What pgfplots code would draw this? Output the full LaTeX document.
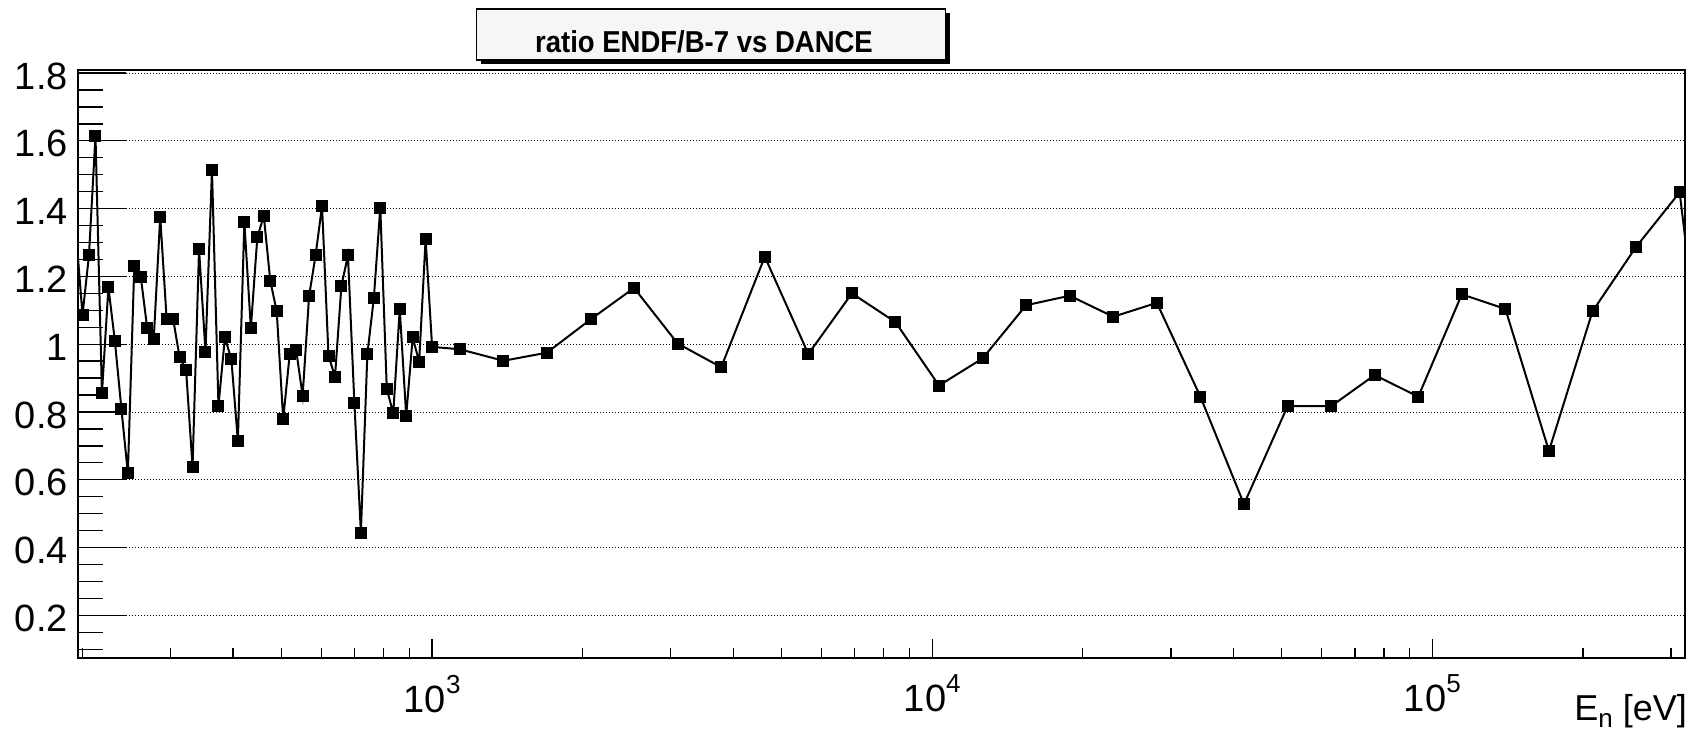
\documentclass[border=0pt]{standalone}
\usepackage{pgfplots}
\pgfplotsset{compat=1.18}
\usepackage{fontspec}
\setmainfont{Liberation Sans}
\newcommand{\tenpow}[1]{10\raisebox{19pt}{\fontsize{26}{26}\selectfont #1}}
\begin{document}
\begin{tikzpicture}
\useasboundingbox (-78pt,-71.7pt) rectangle (1620pt,658.3pt);
\begin{axis}[
  at={(0pt,0pt)}, anchor=south west,
  scale only axis, width=1607pt, height=588.3pt,
  xmode=log, xmin=195.9, xmax=320200,
  ymin=0.0732, ymax=1.809,
  xtick={1000,10000,100000},
  xticklabels={\tenpow{3},\tenpow{4},\tenpow{5}},
  minor xtick={200,300,400,500,600,700,800,900,2000,3000,4000,5000,6000,7000,8000,9000,20000,30000,40000,50000,60000,70000,80000,90000,200000,300000},
  ytick={0.2,0.4,0.6,0.8,1.0,1.2,1.4,1.6,1.8},
  yticklabels={0.2,0.4,0.6,0.8,1,1.2,1.4,1.6,1.8},
  minor ytick={0.1,0.15,0.25,0.3,0.35,0.45,0.5,0.55,0.65,0.7,0.75,0.85,0.9,0.95,1.05,1.1,1.15,1.25,1.3,1.35,1.45,1.5,1.55,1.65,1.7,1.75},
  tick pos=left,
  tick align=inside,
  x tick style={/pgfplots/major tick length=19pt, /pgfplots/minor tick length=10pt},
  y tick style={/pgfplots/major tick length=48pt, /pgfplots/minor tick length=25pt},
  major tick length=48pt, minor tick length=25pt,
  tick style={black, line width=1.3pt},
  axis line style={black, line width=2pt},
  ymajorgrids=true,
  major grid style={black, line width=0.9pt, dash pattern=on 1pt off 2pt},
  tick label style={font=\fontsize{38}{40}\selectfont},
  xticklabel style={anchor=north, inner sep=0pt, yshift=-16.5pt},
  yticklabel style={anchor=east, inner sep=0pt, xshift=-10pt, yshift=-3pt},
  clip=true,
]
\addplot[black, line width=2pt, mark=square*, mark size=5pt, mark options={solid, fill=black}] coordinates {
(194.1,1.33)
(200.0,1.086) (206.0,1.262) (212.3,1.615) (218.7,0.855) (225.3,1.168)
(232.1,1.010) (239.2,0.809) (246.4,0.619) (253.8,1.230) (261.5,1.199)
(269.4,1.047) (277.6,1.015) (286.0,1.376) (294.6,1.074) (303.6,1.074)
(312.7,0.961) (322.2,0.924) (331.9,0.638) (342.0,1.280) (352.3,0.978)
(363.0,1.514) (374.0,0.818) (385.3,1.020) (396.9,0.955) (408.9,0.715)
(421.3,1.360) (434.1,1.047) (447.2,1.315) (460.7,1.379) (474.7,1.187)
(489.0,1.097) (503.8,0.779) (519.1,0.970) (534.8,0.982) (551.0,0.848)
(567.6,1.142) (584.8,1.262) (602.5,1.408) (620.7,0.966) (639.5,0.904)
(658.8,1.173) (678.8,1.262) (699.3,0.825) (720.5,0.444) (742.3,0.971)
(764.7,1.135) (787.9,1.403) (811.7,0.868) (836.3,0.796) (861.6,1.104)
(887.6,0.789) (914.5,1.020) (942.1,0.948) (970.6,1.310) (1000.0,0.992)
(1136,0.985) (1389,0.951) (1697,0.975) (2074,1.073) (2534,1.166)
(3097,1.002) (3785,0.932) (4626,1.258) (5654,0.971) (6909,1.150)
(8444,1.065) (10317,0.878) (12609,0.958) (15410,1.115) (18833,1.143)
(23016,1.081) (28128,1.122) (34376,0.845) (42012,0.528) (51344,0.817)
(62748,0.817) (76685,0.909) (93718,0.845) (114534,1.147) (139973,1.104)
(171061,0.685) (209056,1.097) (255489,1.287) (312237,1.448) (381590,0.38)
};
\end{axis}
% title box
\fill[black] (402.7pt,594.3pt) rectangle (871.7pt,645.3pt);
\draw[fill=gray!7, line width=1.2pt] (398.7pt,598.3pt) rectangle (867.7pt,649.3pt);
\node[anchor=base, inner sep=0pt, font=\bfseries\fontsize{27.5}{30}\selectfont] at (626pt,605.6pt) {\scalebox{1}[1.1]{ratio ENDF/B-7 vs DANCE}};
% x axis title
\node[anchor=base east, inner sep=0pt, font=\fontsize{36}{40}\selectfont] at (1609pt,-62.5pt) {E\raisebox{-6.5pt}{\fontsize{26}{26}\selectfont n} [eV]};
\end{tikzpicture}
\end{document}
